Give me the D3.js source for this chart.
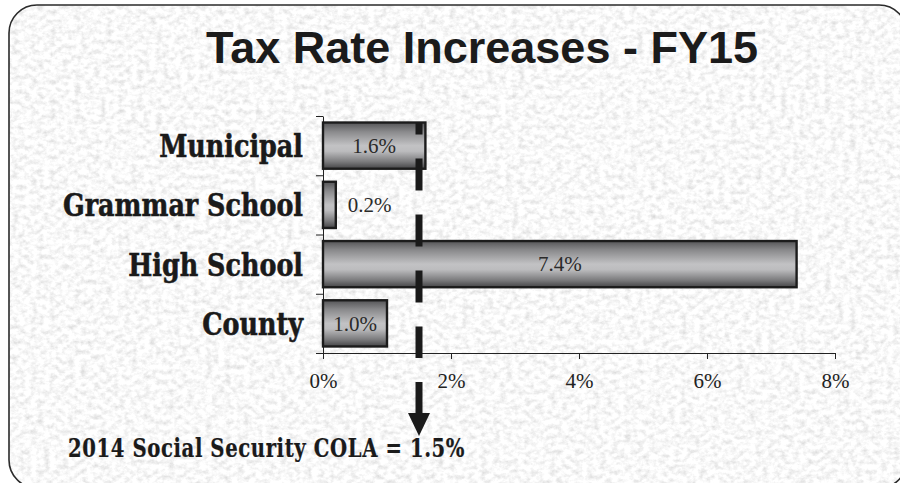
<!DOCTYPE html>
<html>
<head>
<meta charset="utf-8">
<script src="https://cdn.jsdelivr.net/npm/d3@7"></script>
<style>
  html, body { margin: 0; padding: 0; background: #ffffff; }
  svg { display: block; }
</style>
</head>
<body>
<svg id="chart" width="900" height="483"></svg>
<script>
// Tax rate increases by levy, FY15
const categories = ["Municipal", "Grammar School", "High School", "County"];
const rates = [1.6, 0.2, 7.4, 1.0];
const xTicks = [0, 2, 4, 6, 8];
const colaRate = 1.5;
const titleText = "Tax Rate Increases - FY15";
const noteText = "2014 Social Security COLA = " + d3.format(".1f")(colaRate) + "%";

const labelFont = "'DejaVu Serif Condensed', 'DejaVu Serif', serif";

const svg = d3.select("#chart");
const defs = svg.append("defs");

// paper-like speckled texture for the panel
const paper = defs.append("filter").attr("id", "paper")
  .attr("x", 0).attr("y", 0).attr("width", "100%").attr("height", "100%");
paper.append("feTurbulence")
  .attr("type", "fractalNoise").attr("baseFrequency", "0.16 0.2")
  .attr("numOctaves", 4).attr("seed", 11).attr("result", "noise");
paper.append("feColorMatrix").attr("in", "noise").attr("type", "matrix")
  .attr("values", "0.55 0 0 0 0.67  0.55 0 0 0 0.67  0.55 0 0 0 0.67  0 0 0 0 1");

// bar fill: dark edges, light middle
const grad = defs.append("linearGradient").attr("id", "barFill")
  .attr("x1", 0).attr("y1", 0).attr("x2", 0).attr("y2", 1);
[[0, "#555557"], [0.2, "#8a8a8c"], [0.5, "#c2c2c4"], [0.62, "#bcbcbe"], [0.85, "#7a7a7c"], [1, "#444446"]]
  .forEach(([o, c]) => grad.append("stop").attr("offset", o).attr("stop-color", c));

// panel
defs.append("clipPath").attr("id", "panelClip")
  .append("rect").attr("x", 9).attr("y", 5).attr("width", 898).attr("height", 483).attr("rx", 28);
svg.append("rect").attr("x", 0).attr("y", 0).attr("width", 900).attr("height", 483)
  .attr("clip-path", "url(#panelClip)").attr("filter", "url(#paper)");
svg.append("rect").attr("x", 9).attr("y", 5).attr("width", 898).attr("height", 483).attr("rx", 28)
  .attr("fill", "none").attr("stroke", "#2b2b2b").attr("stroke-width", 1.6);

// title
svg.append("text").attr("x", 482).attr("y", 63).attr("text-anchor", "middle")
  .attr("font-family", "'Liberation Sans', Arial, sans-serif").attr("font-weight", "bold")
  .attr("font-size", 45).attr("fill", "#1b1b1b").text(titleText);

// scales
const x = d3.scaleLinear().domain([0, 8]).range([323, 835]);
const y = d3.scaleBand().domain(categories).range([116, 353]).paddingInner(0.22).paddingOuter(0.11);
const yEdges = d3.scaleLinear().domain([0, categories.length]).range([116, 353]);

// axes
const xAxis = svg.append("g").attr("transform", "translate(0,353)")
  .call(d3.axisBottom(x).tickValues(xTicks).tickFormat(d => d + "%").tickSize(6).tickSizeOuter(0).tickPadding(14));
xAxis.select(".domain").attr("stroke", "#222");
xAxis.selectAll(".tick line").attr("stroke", "#222");
xAxis.selectAll(".tick text").attr("font-family", "'Liberation Serif', 'Times New Roman', serif")
  .attr("font-size", 21).attr("fill", "#222");

const yAxis = svg.append("g").attr("transform", "translate(323,0)")
  .call(d3.axisLeft(yEdges).tickValues(d3.range(categories.length + 1)).tickFormat("").tickSize(7).tickSizeOuter(0));
yAxis.select(".domain").attr("stroke", "#222");
yAxis.selectAll(".tick line").attr("stroke", "#222");

// category labels (slightly tall, heavy serif)
const catLabels = svg.append("g").selectAll("text").data(categories).join("text")
  .attr("transform", d => `translate(303,${y(d) + y.bandwidth() / 2}) scale(1,1.12)`)
  .attr("dy", "0.36em")
  .attr("text-anchor", "end")
  .attr("font-family", labelFont).attr("font-weight", "bold")
  .attr("font-size", 26).attr("fill", "#1a1a1a")
  .attr("stroke", "#1a1a1a").attr("stroke-width", 0.5)
  .text(d => d);
const gsNode = catLabels.filter(d => d === "Grammar School").node();
const catSize = 26 * 240 / gsNode.getComputedTextLength();
catLabels.attr("font-size", catSize);

// bars
const barData = categories.map((c, i) => ({ cat: c, value: rates[i] }));
svg.append("g").selectAll("rect").data(barData).join("rect")
  .attr("x", x(0)).attr("y", d => y(d.cat))
  .attr("width", d => x(d.value) - x(0)).attr("height", y.bandwidth())
  .attr("fill", "url(#barFill)").attr("stroke", "#1c1c1c").attr("stroke-width", 2.4);

// value labels: centred inside when they fit, otherwise just past the bar end
const fmt = v => d3.format(".1f")(v) + "%";
svg.append("g").selectAll("text").data(barData).join("text")
  .attr("font-family", "'Liberation Serif', 'Times New Roman', serif")
  .attr("font-size", 21).attr("fill", "#2a2a2a")
  .attr("y", d => y(d.cat) + y.bandwidth() / 2).attr("dy", "0.35em")
  .each(function (d) {
    const w = x(d.value) - x(0);
    const t = d3.select(this).text(fmt(d.value));
    if (w > 50) t.attr("x", x(0) + w / 2).attr("text-anchor", "middle");
    else t.attr("x", x(d.value) + 12).attr("text-anchor", "start");
  });

// COLA reference line with arrow
const cx = x(colaRate);
svg.append("line").attr("x1", cx).attr("x2", cx)
  .attr("y1", y(categories[0])).attr("y2", 358)
  .attr("stroke", "#1a1a1a").attr("stroke-width", 7)
  .attr("stroke-dasharray", "32 24").attr("stroke-dashoffset", 20);
svg.append("line").attr("x1", cx).attr("x2", cx).attr("y1", 382).attr("y2", 416)
  .attr("stroke", "#1a1a1a").attr("stroke-width", 7);
svg.append("path")
  .attr("d", d3.line()([[cx - 11, 413], [cx + 11, 413], [cx, 436]]) + "Z")
  .attr("fill", "#1a1a1a");

// note
const note = svg.append("text").attr("transform", "translate(68,457) scale(1,1.15)")
  .attr("font-family", labelFont).attr("font-weight", "bold")
  .attr("letter-spacing", 0.6)
  .attr("font-size", 22).attr("fill", "#1a1a1a")
  .attr("stroke", "#1a1a1a").attr("stroke-width", 0.2)
  .text(noteText);
note.attr("font-size", 22 * 397 / note.node().getComputedTextLength());
</script>
</body>
</html>
